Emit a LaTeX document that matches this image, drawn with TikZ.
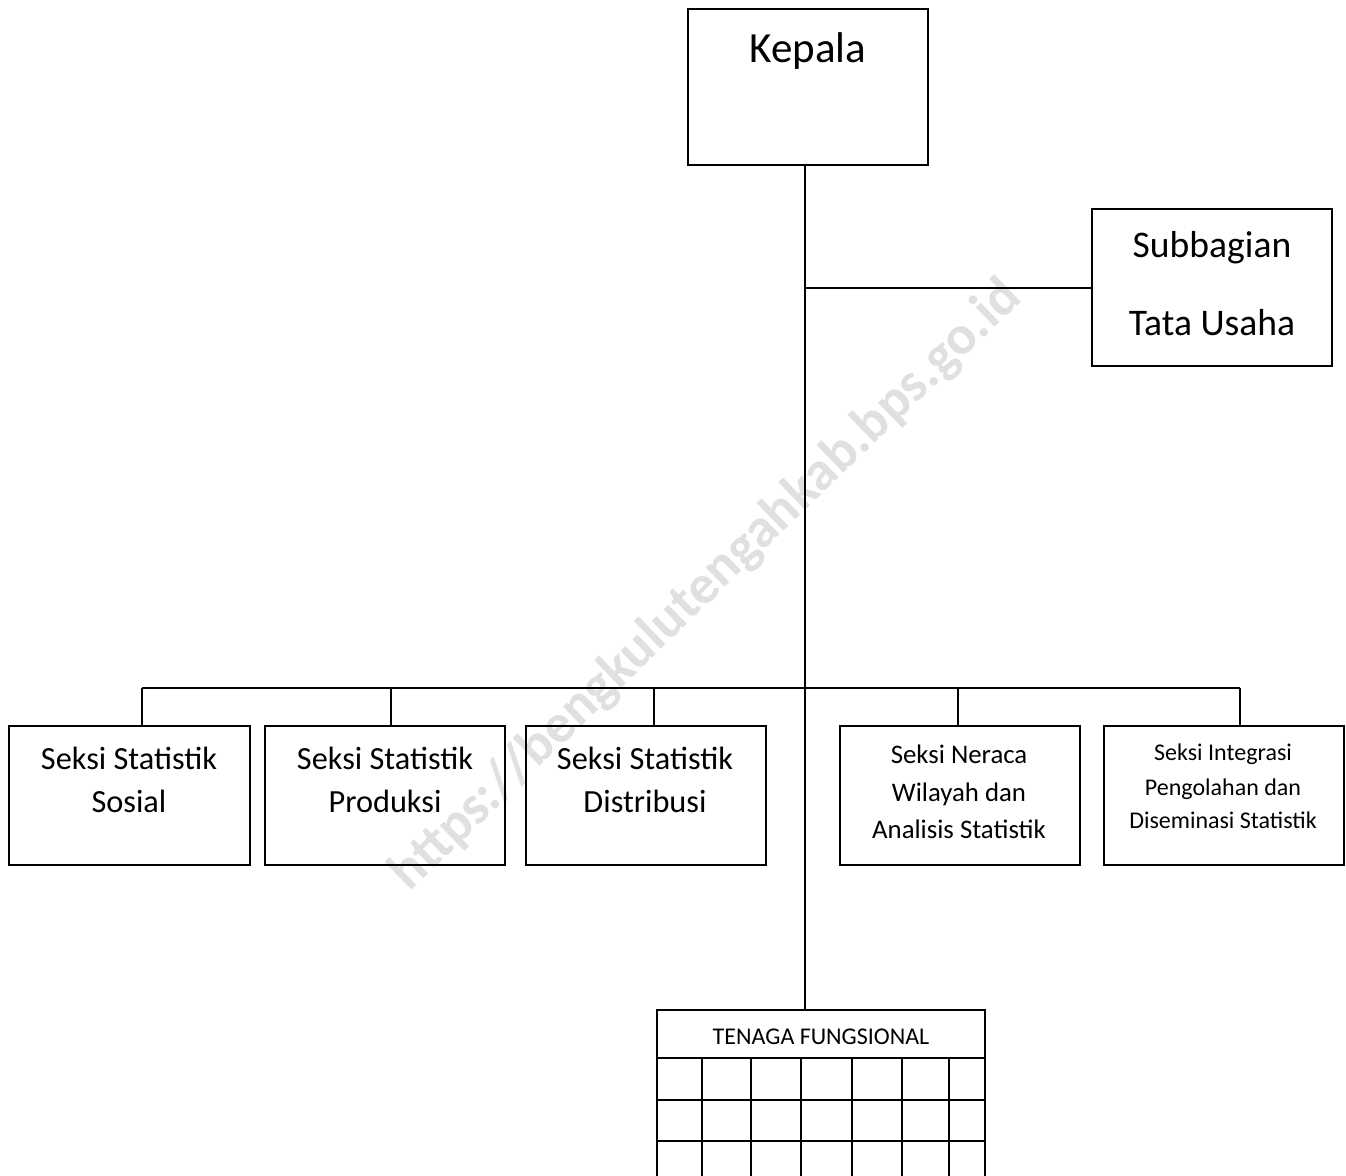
\documentclass[tikz,border=0pt]{standalone}
\usepackage{fontspec}
\setmainfont{Carlito}
\begin{document}
\begin{tikzpicture}[x=1pt,y=-1pt,
  box/.style={draw, line width=1.4pt, inner sep=0pt, minimum width=#1},
  box/.default=240pt,
  lbl/.style={anchor=base, inner sep=0pt},
  link/.style={line width=1.4pt},
  fA/.style={font=\fontsize{43}{50}\selectfont},
  fB/.style={font=\fontsize{37.6}{44}\selectfont},
  fC/.style={font=\fontsize{32.3}{38}\selectfont},
  fD/.style={font=\fontsize{26.8}{31}\selectfont},
  fE/.style={font=\fontsize{24}{28}\selectfont},
  wm/.style={text=black!12, font=\bfseries\fontsize{55}{64}\selectfont, rotate=44, inner sep=0pt}
]
\clip (0,0) rectangle (1346,1175);
\fill[white] (0,0) rectangle (1346,1175);

% watermark
\node[wm] (water) at (706,586) {https://bengkulutengahkab.bps.go.id};

% boxes
\node[box, minimum height=156pt] (kepala) at (808,87) {};
\node[box, minimum height=157pt] (sub) at (1212,287.5) {};
\node[box=241pt, minimum height=139pt] (sosial) at (129.5,795.5) {};
\node[box, minimum height=139pt] (produksi) at (385,795.5) {};
\node[box, minimum height=139pt] (distribusi) at (646,795.5) {};
\node[box, minimum height=139pt] (neraca) at (960,795.5) {};
\node[box, minimum height=139pt] (integrasi) at (1224,795.5) {};
\node[box=328pt, minimum height=48pt] (tenaga) at (821,1034) {};

% labels
\node[lbl,fA] (tKepala) at (808,62) {Kepala};
\node[lbl,fB] (tSub1) at (1212,257) {Subbagian};
\node[lbl,fB] (tSub2) at (1212,335) {Tata Usaha};
\node[lbl,fC] (tSos1) at (129,769) {Seksi Statistik};
\node[lbl,fC] (tSos2) at (129,812) {Sosial};
\node[lbl,fC] (tPro1) at (385,769) {Seksi Statistik};
\node[lbl,fC] (tPro2) at (385,812) {Produksi};
\node[lbl,fC] (tDis1) at (645,769) {Seksi Statistik};
\node[lbl,fC] (tDis2) at (645,812) {Distribusi};
\node[lbl,fD] (tNer1) at (959,763) {Seksi Neraca};
\node[lbl,fD] (tNer2) at (959,801) {Wilayah dan};
\node[lbl,fD] (tNer3) at (959,838) {Analisis Statistik};
\node[lbl,fE] (tInt1) at (1223,760) {Seksi Integrasi};
\node[lbl,fE] (tInt2) at (1223,795) {Pengolahan dan};
\node[lbl,fE] (tInt3) at (1223,828) {Diseminasi Statistik};
\node[lbl,fE] (tTen) at (821,1044) {TENAGA FUNGSIONAL};

% junctions
\coordinate (jT) at (805,288);
\coordinate (jB) at (805,688);
\coordinate (d1) at (142,688);
\coordinate (d2) at (391,688);
\coordinate (d3) at (654,688);
\coordinate (d4) at (958,688);
\coordinate (d5) at (1240,688);

% connectors
\draw[link] (kepala.south -| jT) -- (tenaga.north -| jT);
\draw[link] (jT) -- (sub.west |- jT);
\draw[link] (d1) -- (d5);
\draw[link] (d1) -- (d1 |- sosial.north);
\draw[link] (d2) -- (d2 |- produksi.north);
\draw[link] (d3) -- (d3 |- distribusi.north);
\draw[link] (d4) -- (d4 |- neraca.north);
\draw[link] (d5) -- (d5 |- integrasi.north);

% grid under TENAGA FUNGSIONAL
\foreach \x in {657,702,751,801,852,902,949,985}
  \draw[link] (\x,1058) -- (\x,1185);
\foreach \y in {1100,1141}
  \draw[link] (657,\y) -- (985,\y);
\end{tikzpicture}
\end{document}
